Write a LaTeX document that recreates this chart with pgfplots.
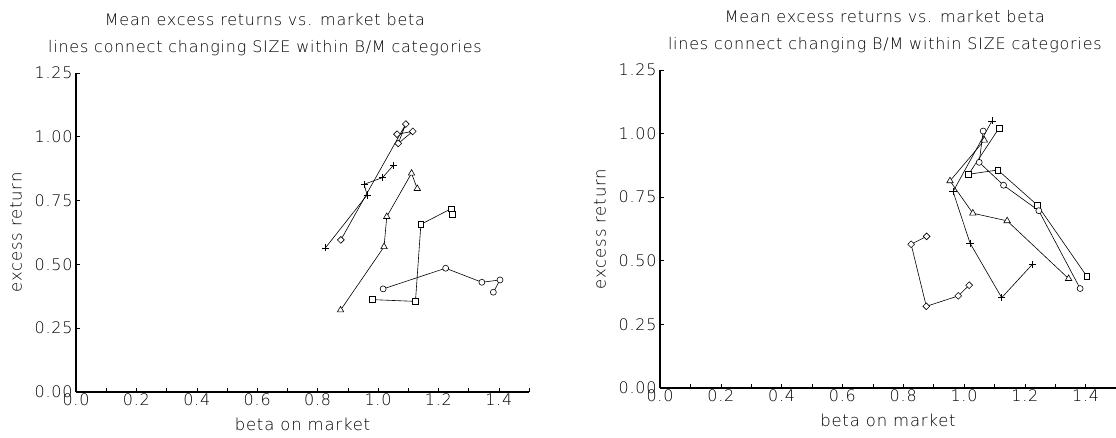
\documentclass[border=0pt]{standalone}
\usepackage{fontspec}
\setmainfont{DejaVu Sans ExtraLight}[LetterSpace=5]
\usepackage{pgfplots}
\pgfplotsset{compat=1.18}

\pgfplotsset{
  ffpanel/.style={
    scale only axis,
    xmin=0, xmax=1.5, ymin=0, ymax=1.25,
    axis x line=bottom, axis y line=left,
    axis line style={-, line width=1.4bp},
    xtick={0,0.2,0.4,0.6,0.8,1.0,1.2,1.4},
    minor xtick={0.1,0.3,0.5,0.7,0.9,1.1,1.3,1.5},
    ytick={0,0.25,0.5,0.75,1.0,1.25},
    tick align=inside,
    major tick length=4bp, minor tick length=4bp,
    tick style={black, line width=0.6bp},
    /pgf/number format/assume math mode=true,
    x tick label style={/pgf/number format/.cd, fixed, fixed zerofill, precision=1, /tikz/.cd, yshift=2bp},
    y tick label style={/pgf/number format/.cd, fixed, fixed zerofill, precision=2, /tikz/.cd},
    tick label style={font=\fontsize{16}{18}\selectfont},
    label style={font=\fontsize{16.5}{18}\selectfont},
    xlabel={beta on market},
    ylabel={excess return},
    xlabel style={at={(rel axis cs:0.5,0)}, anchor=base, yshift=-38bp},
    % the label is turned by 90 degrees, so yshift moves it to the left
    ylabel style={at={(rel axis cs:0,0.5)}, anchor=center, yshift=60bp},
    title style={anchor=south, align=center, inner sep=0pt, yshift=11bp,
      font=\fontsize{16}{27}\selectfont},
    every axis plot/.append style={black, line width=0.6bp,
      mark options={solid, fill=white, line width=0.5bp}},
  },
  mdia/.style={mark=square*, mark size=2.4bp, mark options={rotate=45, fill=white}},
  mplus/.style={mark=+, mark size=3.6bp},
  mtri/.style={mark=triangle*, mark size=3.7bp, mark options={fill=white}},
  msq/.style={mark=square*, mark size=2.9bp, mark options={fill=white}},
  mcirc/.style={mark=*, mark size=3bp, mark options={fill=white}},
}

\begin{document}
\begin{tikzpicture}
% page frame: left axis corner sits 76bp from the left and 46bp from the bottom
\useasboundingbox (-76bp,-46bp) rectangle (1040bp,392bp);
% left: lines connect changing SIZE within B/M categories
\begin{axis}[ffpanel, width=453bp, height=319bp,
  title={Mean excess returns vs. market beta\\lines connect changing SIZE within B/M categories},
  title style={at={(rel axis cs:0.417,1)}}]
\addplot[mdia] coordinates {(0.877,0.596) (1.092,1.050) (1.067,0.974) (1.115,1.021) (1.063,1.010)};
\addplot[mplus] coordinates {(0.826,0.565) (0.964,0.772) (0.954,0.814) (1.015,0.840) (1.050,0.887)};
\addplot[mtri] coordinates {(0.876,0.321) (1.020,0.569) (1.029,0.687) (1.111,0.857) (1.130,0.797)};
\addplot[msq] coordinates {(0.981,0.362) (1.124,0.355) (1.142,0.657) (1.242,0.718) (1.246,0.697)};
\addplot[mcirc] coordinates {(1.017,0.404) (1.224,0.485) (1.344,0.430) (1.404,0.439) (1.382,0.391)};
\end{axis}
% right: lines connect changing B/M within SIZE categories
\begin{axis}[ffpanel, at={(584bp,4bp)}, width=456bp, height=318bp,
  title={Mean excess returns vs. market beta\\lines connect changing B/M within SIZE categories},
  title style={at={(rel axis cs:0.493,1)}}]
\addplot[mdia] coordinates {(0.877,0.596) (0.826,0.565) (0.876,0.321) (0.981,0.362) (1.017,0.404)};
\addplot[mplus] coordinates {(1.092,1.050) (0.964,0.772) (1.020,0.569) (1.124,0.355) (1.224,0.485)};
\addplot[mtri] coordinates {(1.067,0.974) (0.954,0.814) (1.029,0.687) (1.142,0.657) (1.344,0.430)};
\addplot[msq] coordinates {(1.115,1.021) (1.015,0.840) (1.111,0.857) (1.242,0.718) (1.404,0.439)};
\addplot[mcirc] coordinates {(1.063,1.010) (1.050,0.887) (1.130,0.797) (1.246,0.697) (1.382,0.391)};
\end{axis}
\end{tikzpicture}
\end{document}
